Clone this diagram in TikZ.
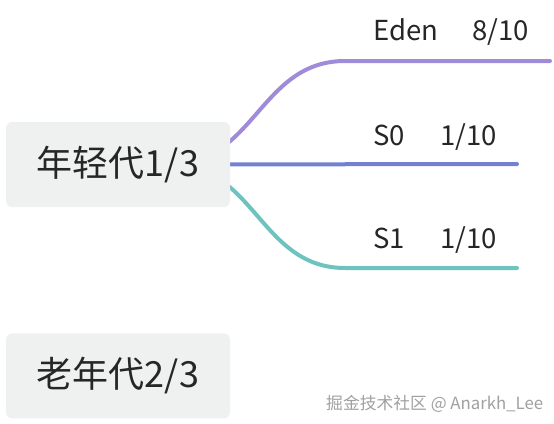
\documentclass[tikz,border=0pt]{standalone}
\usepackage{fontspec}
\setmainfont{Noto Sans CJK SC}
\usepackage{tikz}
\usetikzlibrary{positioning, backgrounds, calc}

\definecolor{edencol}{HTML}{A08BDA}
\definecolor{szerocol}{HTML}{7281D0}
\definecolor{sonecol}{HTML}{6FC3BE}
\definecolor{boxfill}{HTML}{EFF0F0}
\definecolor{textgray}{HTML}{262626}
\definecolor{markgray}{HTML}{A0A0A0}

\begin{document}
\begin{tikzpicture}[
    x=1pt, y=-1pt,
    node distance=126pt,
    gen/.style={rectangle, fill=boxfill, rounded corners=6pt, minimum width=224pt, minimum height=85pt, inner sep=0pt, text=textgray, font=\fontsize{36}{40}\selectfont},
    area/.style={anchor=base west, inner sep=0pt, text=textgray, font=\fontsize{27.5}{30}\selectfont},
    branch/.style={line width=4pt, line cap=round},
]
    \useasboundingbox (0,0) rectangle (554,423);

    % Generations
    \node[gen] (young) at (118,164.5) {年轻代1/3};
    \node[gen, below=126pt of young] (old) {老年代2/3};

    % Branch ends
    \coordinate (root) at ($(young.center)+(52,0)$);
    \coordinate (edenend) at (550,61);
    \coordinate (szeroend) at (517,164);
    \coordinate (soneend) at (517,268);

    % Branches (behind the box)
    \begin{scope}[on background layer]
        \draw[branch, edencol] (root) .. controls (255,164) and (260,61) .. (345,61) -- (edenend);
        \draw[branch, szerocol] (root) -- (szeroend);
        \draw[branch, sonecol] (root) .. controls (255,164) and (260,268) .. (345,268) -- (soneend);
    \end{scope}

    % Areas
    \node[area] (eden) at (373,40) {\makebox[99pt][l]{Eden}8/10};
    \node[area] (szero) at (373,145) {\makebox[67pt][l]{S0}1/10};
    \node[area] (sone) at (373,248) {\makebox[67pt][l]{S1}1/10};

    % Watermark
    \node[anchor=base west, inner sep=0pt, text=markgray, font=\fontsize{16.8}{18}\selectfont] (mark) at (326,409) {掘金技术社区 @ Anarkh\_Lee};
\end{tikzpicture}
\end{document}
